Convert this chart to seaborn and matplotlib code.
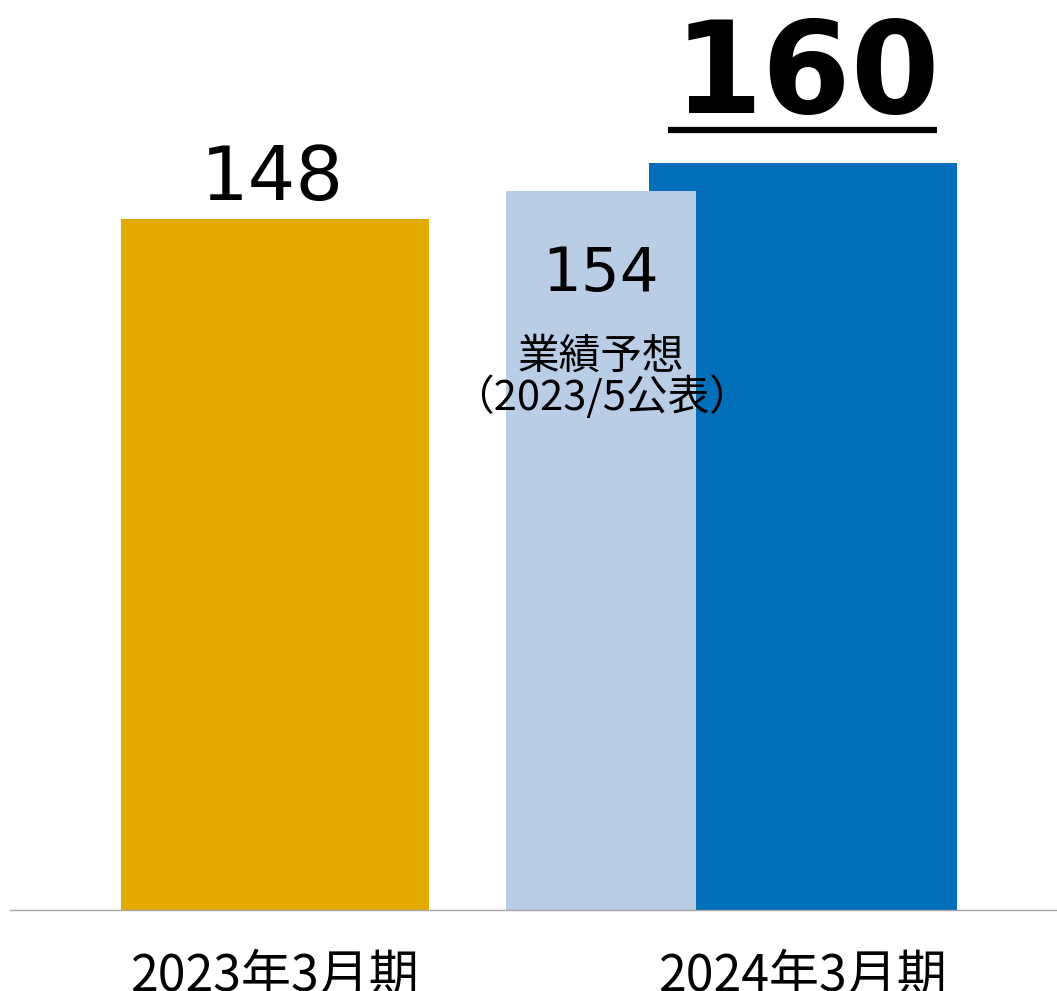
import numpy as np
import pandas as pd
import seaborn as sns
import matplotlib.pyplot as plt
from matplotlib.lines import Line2D

sns.set_style("white")
plt.rcParams['font.family'] = ['Noto Sans CJK JP', 'DejaVu Sans']
plt.rcParams['text.color'] = 'black'
plt.rcParams['xtick.color'] = 'black'

# data
periods = ['2023年3月期', '2024年3月期']
actual = [148, 160]
forecast = 154
forecast_text = ['業績予想', '（2023/5公表）']
colors = ['#E3AB00', '#006EB9']
forecast_color = '#B9CDE5'

df = pd.DataFrame({'period': periods, 'value': actual})

fig = plt.figure(figsize=(10.57, 9.91), dpi=100)
ax = fig.add_axes([10 / 1057, 81 / 991, 1047 / 1057, 910 / 991])

sns.barplot(data=df, x='period', y='value', hue='period', palette=colors,
            width=0.583, saturation=1, dodge=False, legend=False, ax=ax,
            linewidth=0, edgecolor='none')

# forecast bar, drawn over the left part of the 2024 bar
fx = 1 - 0.3826
ax.bar(fx, forecast, width=0.36, color=forecast_color, linewidth=0, zorder=3)

ax.set_xlim(-0.502, 1.481)
ax.set_ylim(0, 194.9)
ax.set_xlabel('')
ax.set_ylabel('')
ax.set_yticks([])
for s in ['top', 'right', 'left']:
    ax.spines[s].set_visible(False)
ax.spines['bottom'].set_color('#A6A6A6')
ax.spines['bottom'].set_linewidth(1)
ax.spines['bottom'].set_zorder(5)
ax.tick_params(axis='x', length=0, pad=29, labelsize=36, labelcolor='black')

# value labels
ax.annotate(str(actual[0]), xy=(0, actual[0]), xytext=(-2, 14), textcoords='offset points',
            ha='center', va='baseline', fontsize=54, family='DejaVu Sans')
t160 = ax.annotate(str(actual[1]), xy=(1, actual[1]), xytext=(3, 36), textcoords='offset points',
                   ha='center', va='baseline', fontsize=92, fontweight='bold', family='DejaVu Sans')
ax.annotate(str(forecast), xy=(fx, forecast), xytext=(0, -72), textcoords='offset points',
            ha='center', va='baseline', fontsize=44, family='DejaVu Sans', zorder=4)
ax.annotate(forecast_text[0], xy=(fx, forecast), xytext=(0, -105), textcoords='offset points',
            ha='center', va='top', fontsize=30, zorder=4)
ax.annotate(forecast_text[1], xy=(fx, forecast), xytext=(0, -133), textcoords='offset points',
            ha='center', va='top', fontsize=30, zorder=4)

# underline under 160
fig.canvas.draw()
bb = t160.get_window_extent()
W, H = fig.bbox.width, fig.bbox.height
uy = (991 - 130) / 991
fig.add_artist(Line2D([(bb.x0 - 6) / W, (bb.x1 - 4) / W], [uy, uy],
                      transform=fig.transFigure, color='black', linewidth=4.5,
                      solid_capstyle='butt'))

fig.savefig('out.png', dpi=100)
